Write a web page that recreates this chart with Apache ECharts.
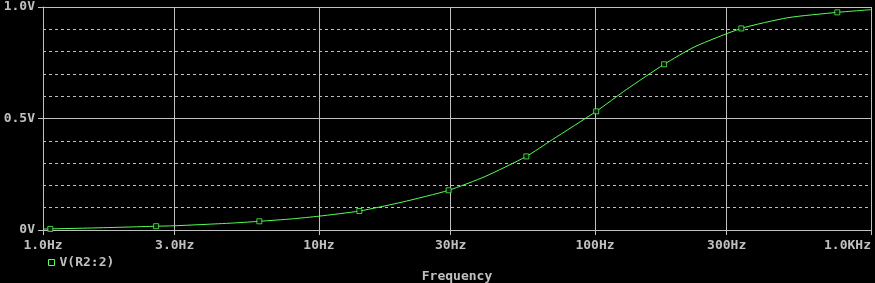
<!DOCTYPE html>
<html><head><meta charset="utf-8">
<script src="https://cdn.jsdelivr.net/npm/echarts@6/dist/echarts.min.js"></script>
<style>html,body{margin:0;padding:0;background:#000;}#c{width:875px;height:283px;}</style>
</head><body><div id="c"></div>
<script>
const seriesName = 'V(R2:2)';
const lineFreqs = [1, 1.063, 1.5, 2, 2.57, 3, 4, 5, 6.08, 8, 10, 14, 20, 29.5, 40, 56.4, 70, 101, 130, 178, 230, 339, 500, 755, 1000];
const lineVolts = [0.004, 0.005, 0.009, 0.013, 0.017, 0.019, 0.026, 0.032, 0.039, 0.050, 0.062, 0.085, 0.125, 0.178, 0.240, 0.330, 0.405, 0.532, 0.630, 0.743, 0.822, 0.904, 0.952, 0.976, 0.988];
const markerFreqs = [1.063, 2.57, 6.08, 14, 29.5, 56.4, 101, 178, 339, 755];
const markerVolts = [0.005, 0.017, 0.039, 0.085, 0.178, 0.330, 0.532, 0.743, 0.904, 0.976];
const xTickValues = [1, 3, 10, 30, 100, 300, 1000];
const xTickLabels = ['1.0Hz', '3.0Hz', '10Hz', '30Hz', '100Hz', '300Hz', '1.0KHz'];
const yLabelMap = {0: '0V', 0.5: '0.5V', 1: '1.0V'};

const GRAY = '#c0c0c0', GREEN = '#55ff55';
const FONT = 'DejaVu Sans Mono';
const chart = echarts.init(document.getElementById('c'), null, {renderer: 'canvas'});
chart.setOption({
  backgroundColor: '#000',
  animation: false,
  grid: {left: 43, right: 4, top: 7, bottom: 53, containLabel: false, outerBoundsMode: 'none'},
  legend: {
    left: 43, top: 251, data: [seriesName], icon: 'rect', itemWidth: 6, itemHeight: 6, itemGap: 6,
    itemStyle: {color: 'transparent', borderColor: GREEN, borderWidth: 1},
    textStyle: {color: GRAY, fontFamily: FONT, fontWeight: 'bold', fontSize: 13}
  },
  xAxis: {
    type: 'log', logBase: 10, min: 1, max: 1000,
    name: 'Frequency', nameLocation: 'middle', nameGap: 40,
    nameTextStyle: {color: GRAY, fontFamily: FONT, fontWeight: 'bold', fontSize: 13},
    axisLine: {show: true, lineStyle: {color: GRAY, width: 1}},
    axisTick: {show: true, length: 5, customValues: xTickValues, lineStyle: {color: GRAY}},
    axisLabel: {
      customValues: xTickValues, color: GRAY, fontFamily: FONT, fontWeight: 'bold', fontSize: 13, margin: 9,
      alignMaxLabel: 'right',
      formatter: v => { const i = xTickValues.findIndex(t => Math.abs(t - v) / t < 1e-6); return i >= 0 ? xTickLabels[i] : ''; }
    },
    splitLine: {show: true, lineStyle: {color: GRAY, width: 1, type: 'solid'}},
    minorTick: {show: false}, minorSplitLine: {show: false}
  },
  yAxis: [
    {
      type: 'value', min: 0, max: 1, interval: 0.1, position: 'left',
      axisLine: {show: false}, axisTick: {show: false}, axisLabel: {show: false},
      splitLine: {show: true, lineStyle: {color: GRAY, width: 1, type: [3, 3]}}
    },
    {
      type: 'value', min: 0, max: 1, interval: 0.5, position: 'left',
      axisLine: {show: true, onZero: false, lineStyle: {color: GRAY, width: 1}},
      axisTick: {show: true, length: 5, lineStyle: {color: GRAY}},
      axisLabel: {color: GRAY, fontFamily: FONT, fontWeight: 'bold', fontSize: 13, margin: 8,
        formatter: v => yLabelMap[Math.round(v * 10) / 10] || ''},
      splitLine: {show: true, lineStyle: {color: GRAY, width: 1, type: 'solid'}}
    }
  ],
  series: [
    {
      name: seriesName, type: 'line', yAxisIndex: 1, smooth: 0.2, showSymbol: false, symbol: 'none',
      lineStyle: {color: GREEN, width: 1}, itemStyle: {color: GREEN},
      data: lineFreqs.map((f, i) => [f, lineVolts[i]]), z: 5
    },
    {
      name: seriesName, type: 'scatter', yAxisIndex: 1, symbol: 'rect', symbolSize: 5,
      itemStyle: {color: '#000', borderColor: GREEN, borderWidth: 1},
      data: markerFreqs.map((f, i) => [f, markerVolts[i]]), z: 6
    }
  ]
});
</script></body></html>
